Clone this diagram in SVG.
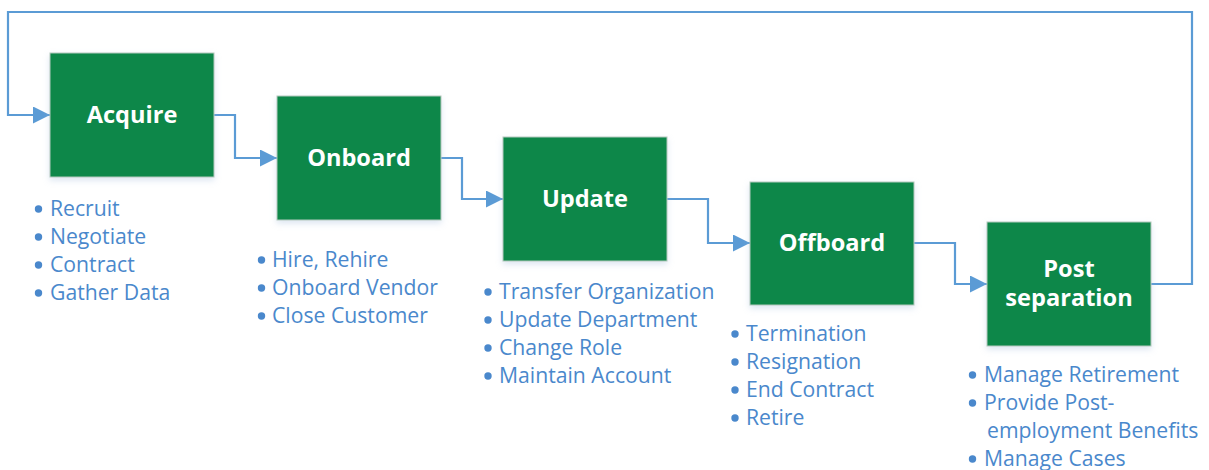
<svg xmlns="http://www.w3.org/2000/svg" width="1209" height="470" viewBox="0 0 1209 470">
  <defs>
    <marker id="arrow" markerUnits="userSpaceOnUse" markerWidth="17" markerHeight="17" viewBox="0 0 17 17" refX="17" refY="8.5" orient="auto">
      <path d="M0,0 L17,8.5 L0,17 Z" fill="#5b9bd5"/>
    </marker>
    <filter id="shadow" x="-10%" y="-10%" width="120%" height="130%">
      <feGaussianBlur in="SourceAlpha" stdDeviation="3"/>
      <feOffset dx="0" dy="3" result="b"/>
      <feFlood flood-color="#9db8d8" flood-opacity="0.35"/>
      <feComposite in2="b" operator="in"/>
      <feMerge><feMergeNode/><feMergeNode in="SourceGraphic"/></feMerge>
    </filter>
  </defs>
  <style>
    .box { fill: #0d874a; stroke: #b5c9bd; stroke-width: 1; filter: url(#shadow); }
    .title { font-family: "Open Sans", "Noto Sans", sans-serif; font-weight: bold; font-size: 23.6px; fill: #ffffff; text-anchor: middle; }
    .item { font-family: "Open Sans", "Noto Sans", sans-serif; font-size: 21.2px; fill: #4a88cc; }
    .dot { fill: #4a88cc; }
    .conn { fill: none; stroke: #5b9bd5; stroke-width: 2.2; marker-end: url(#arrow); }
  </style>

  <g id="connectors">
    <path class="conn" d="M214,115 H235 V158 H277"/>
    <path class="conn" d="M441,158 H462 V199 H503"/>
    <path class="conn" d="M667,199 H708 V243 H750"/>
    <path class="conn" d="M914,243 H955 V284 H987"/>
    <path class="conn" d="M1151,284 H1192 V12 H8 V115 H50"/>
  </g>

  <g id="acquire">
    <rect class="box" x="50" y="53" width="164" height="124"/>
    <text class="title" x="132" y="123">Acquire</text>
    <circle class="dot" cx="38.5" cy="209" r="3.7"/>
    <text class="item" x="50" y="216">Recruit</text>
    <circle class="dot" cx="38.5" cy="237" r="3.7"/>
    <text class="item" x="50" y="244">Negotiate</text>
    <circle class="dot" cx="38.5" cy="265" r="3.7"/>
    <text class="item" x="50" y="272">Contract</text>
    <circle class="dot" cx="38.5" cy="293" r="3.7"/>
    <text class="item" x="50" y="300">Gather Data</text>
  </g>

  <g id="onboard">
    <rect class="box" x="277" y="96" width="164" height="124"/>
    <text class="title" x="359" y="166">Onboard</text>
    <circle class="dot" cx="261.5" cy="260" r="3.7"/>
    <text class="item" x="272" y="267">Hire, Rehire</text>
    <circle class="dot" cx="261.5" cy="288" r="3.7"/>
    <text class="item" x="272" y="295">Onboard Vendor</text>
    <circle class="dot" cx="261.5" cy="316" r="3.7"/>
    <text class="item" x="272" y="323">Close Customer</text>
  </g>

  <g id="update">
    <rect class="box" x="503" y="137" width="164" height="124"/>
    <text class="title" x="585" y="207">Update</text>
    <circle class="dot" cx="488" cy="292" r="3.7"/>
    <text class="item" x="499" y="299">Transfer Organization</text>
    <circle class="dot" cx="488" cy="320" r="3.7"/>
    <text class="item" x="499" y="327">Update Department</text>
    <circle class="dot" cx="488" cy="348" r="3.7"/>
    <text class="item" x="499" y="355">Change Role</text>
    <circle class="dot" cx="488" cy="376" r="3.7"/>
    <text class="item" x="499" y="383">Maintain Account</text>
  </g>

  <g id="offboard">
    <rect class="box" x="750" y="182" width="164" height="123"/>
    <text class="title" x="832" y="251">Offboard</text>
    <circle class="dot" cx="735" cy="334" r="3.7"/>
    <text class="item" x="746" y="341">Termination</text>
    <circle class="dot" cx="735" cy="362" r="3.7"/>
    <text class="item" x="746" y="369">Resignation</text>
    <circle class="dot" cx="735" cy="390" r="3.7"/>
    <text class="item" x="746" y="397">End Contract</text>
    <circle class="dot" cx="735" cy="418" r="3.7"/>
    <text class="item" x="746" y="425">Retire</text>
  </g>

  <g id="post-separation">
    <rect class="box" x="987" y="222" width="164" height="124"/>
    <text class="title" x="1069" y="277">Post</text>
    <text class="title" x="1069" y="306">separation</text>
    <circle class="dot" cx="972.5" cy="375" r="3.7"/>
    <text class="item" x="984" y="382">Manage Retirement</text>
    <circle class="dot" cx="972.5" cy="403" r="3.7"/>
    <text class="item" x="984" y="410">Provide Post-</text>
    <text class="item" x="987" y="438">employment Benefits</text>
    <circle class="dot" cx="972.5" cy="459" r="3.7"/>
    <text class="item" x="984" y="466">Manage Cases</text>
  </g>
</svg>
